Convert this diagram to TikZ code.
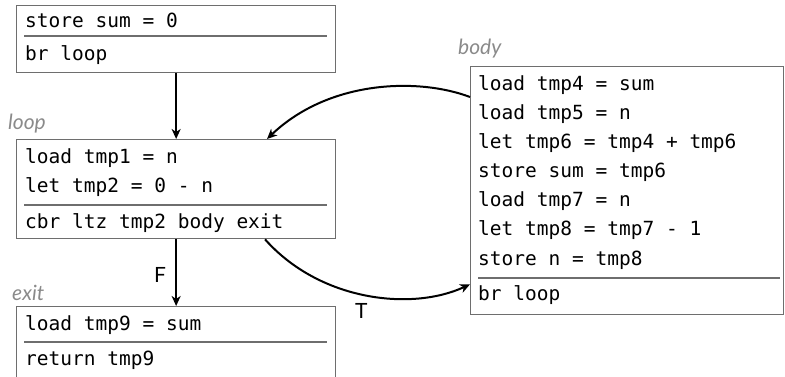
\documentclass[tikz,border=0pt]{standalone}
\usepackage{fontspec}
\setmonofont{DejaVu Sans Mono}
\newfontfamily\labelfont{Lato}
\usetikzlibrary{arrows.meta,calc}
\definecolor{frame}{HTML}{6E6E6E}
\definecolor{blocklabel}{HTML}{8A8A8A}
\tikzset{
  blockbox/.style={draw=frame, line width=1.3pt, rectangle, inner sep=0pt, anchor=north west},
  instr/.style={inner sep=0pt, anchor=base west, font=\fontsize{19.5}{22}\ttfamily},
  divider/.style={draw=frame, line width=1.2pt},
  blockname/.style={inner sep=0pt, anchor=base west, text=blocklabel, font=\fontsize{21}{24}\labelfont\itshape},
  edgelabel/.style={inner sep=0pt, anchor=base west, font=\fontsize{21}{24}\labelfont},
  flow/.style={line width=2pt, -{Stealth[length=10pt,width=9pt,inset=3pt]}}
}
\begin{document}
\begin{tikzpicture}[x=1pt,y=-1pt]
\useasboundingbox (0,0) rectangle (785,377);
\clip (0,0) rectangle (785,377);

% entry block
\node[blockbox, minimum width=319pt, minimum height=67pt] (entry) at (16,5) {};
\node[instr] (e1) at (25,28) {store sum = 0};
\draw[divider] (24,36) -- (327,36);
\node[instr] (e2) at (25,61) {br loop};

% loop block
\node[blockname] (loopname) at (8,130) {loop};
\node[blockbox, minimum width=319pt, minimum height=99pt] (loop) at (16,139) {};
\node[instr] (l1) at (25,164) {load tmp1 = n};
\node[instr] (l2) at (25,193) {let tmp2 = 0 - n};
\draw[divider] (24,205) -- (327,205);
\node[instr] (l3) at (25,228) {cbr ltz tmp2 body exit};

% exit block
\node[blockname] (exitname) at (12,300) {exit};
\node[blockbox, minimum width=319pt, minimum height=85pt] (exit) at (16,306) {};
\node[instr] (x1) at (25,330) {load tmp9 = sum};
\draw[divider] (24,342) -- (327,342);
\node[instr] (x2) at (25,365) {return tmp9};

% body block
\node[blockname] (bodyname) at (458,55) {body};
\node[blockbox, minimum width=313pt, minimum height=248pt] (body) at (470,66) {};
\node[instr] (b1) at (478,91) {load tmp4 = sum};
\node[instr] (b2) at (478,120) {load tmp5 = n};
\node[instr] (b3) at (478,149) {let tmp6 = tmp4 + tmp6};
\node[instr] (b4) at (478,178) {store sum = tmp6};
\node[instr] (b5) at (478,207) {load tmp7 = n};
\node[instr] (b6) at (478,236) {let tmp8 = tmp7 - 1};
\node[instr] (b7) at (478,265) {store n = tmp8};
\draw[divider] (478,278) -- (780,278);
\node[instr] (b8) at (478,300) {br loop};

% control flow edges
\draw[flow] (entry.south) -- (loop.north);
\draw[flow] (loop.south) -- (exit.north);
\node[edgelabel] (flabel) at (154,282) {F};
\draw[flow] ($(body.north west)+(0,31)$) .. controls +(-50,-19) and +(63,-60) .. ($(loop.north west)+(251,0)$);
\draw[flow] ($(loop.south west)+(249,0)$) .. controls +(55,62) and +(-58,27) .. ($(body.south west)+(0,-31)$);
\node[edgelabel] (tlabel) at (355,318) {T};
\end{tikzpicture}
\end{document}
